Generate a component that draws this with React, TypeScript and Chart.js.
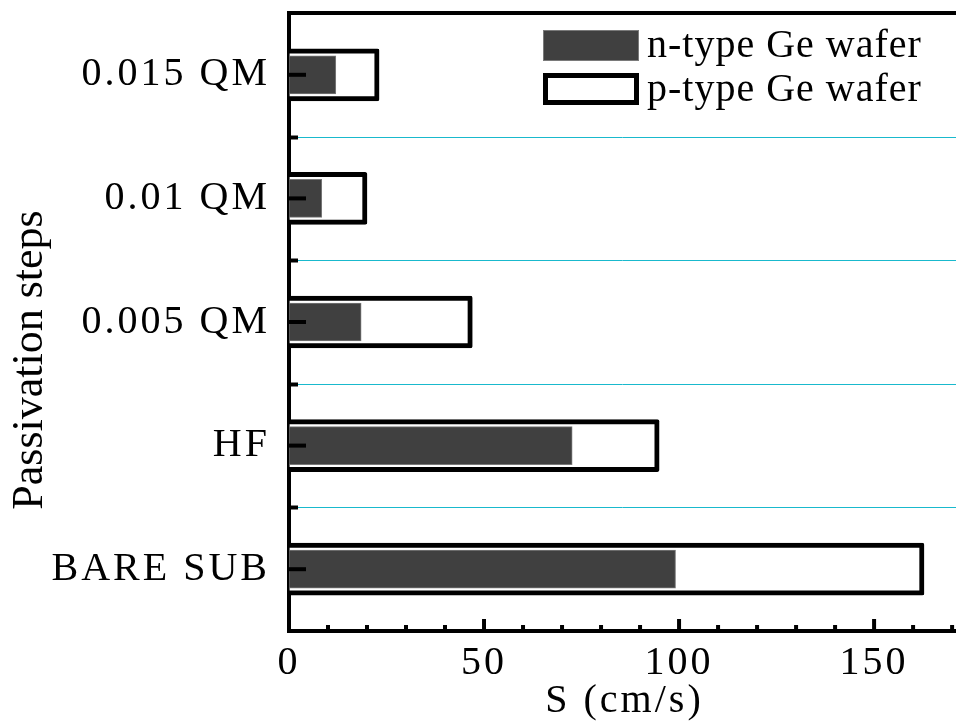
import React, { useEffect, useRef } from "react";
import { Chart, registerables } from "chart.js";

Chart.register(...registerables);

const categories = ["0.015 QM", "0.01 QM", "0.005 QM", "HF", "BARE SUB"];
const nTypeValues = [12.0, 8.4, 18.5, 72.6, 99.1];
const pTypeValues = [23.1, 20.0, 47.0, 94.9, 162.8];
const seriesLabels = ["n-type Ge wafer", "p-type Ge wafer"];
const xMajorTicks = [0, 50, 100, 150];
const xAxisTitle = "S (cm/s)";
const yAxisTitle = "Passivation steps";

const FONT = '"Liberation Serif", "Times New Roman", Times, serif';
const GRID_CYAN = "#19b9cd";

const spacingPlugin = {
  id: "letterSpacingPlugin",
  beforeUpdate(chart: any) {
    chart.ctx.letterSpacing = "3px";
  },
  beforeDraw(chart: any) {
    chart.ctx.letterSpacing = "3px";
  },
};

const gridPlugin = {
  id: "cyanGrid",
  beforeDatasetsDraw(chart: any) {
    const { ctx, chartArea: ca, scales } = chart;
    const y = scales.y;
    ctx.save();
    ctx.strokeStyle = GRID_CYAN;
    ctx.lineWidth = 1;
    for (let i = 0; i < categories.length - 1; i++) {
      const py = Math.round(y.getPixelForValue(i + 0.5)) + 0.5;
      ctx.beginPath();
      ctx.moveTo(ca.left, py);
      ctx.lineTo(ca.right, py);
      ctx.stroke();
    }
    ctx.restore();
  },
};

const overlayPlugin = {
  id: "overlayPlugin",
  afterDraw(chart: any) {
    const { ctx, chartArea: ca, scales } = chart;
    const x = scales.x;
    const y = scales.y;
    ctx.save();
    ctx.letterSpacing = "0px";
    ctx.strokeStyle = "#000";
    ctx.lineCap = "butt";
    const line = (x1: number, y1: number, x2: number, y2: number, w: number) => {
      ctx.lineWidth = w;
      ctx.beginPath();
      ctx.moveTo(x1, y1);
      ctx.lineTo(x2, y2);
      ctx.stroke();
    };
    // top frame
    line(ca.left - 2, ca.top, ca.right, ca.top, 4);
    // x ticks (inward)
    x.ticks.forEach((t: any) => {
      const px = x.getPixelForValue(t.value);
      const major = t.value % 50 === 0;
      line(px, ca.bottom, px, ca.bottom - (major ? 12 : 6), 4);
    });
    // y ticks (inward)
    for (let i = 0; i < categories.length; i++) {
      const py = y.getPixelForValue(i);
      line(ca.left, py, ca.left + 17, py, 4);
      if (i < categories.length - 1) {
        const pb = Math.round(y.getPixelForValue(i + 0.5)) + 0.5;
        line(ca.left, pb, ca.left + 9, pb, 4);
      }
    }
    // legend
    const ds = chart.data.datasets;
    ctx.font = `40px ${FONT}`;
    ctx.letterSpacing = "1px";
    ctx.textBaseline = "middle";
    ctx.textAlign = "left";
    ctx.fillStyle = ds[0].backgroundColor;
    ctx.fillRect(543, 30, 96, 31);
    ctx.strokeStyle = ds[0].borderColor;
    ctx.lineWidth = 1;
    ctx.strokeRect(543.5, 30.5, 95, 30);
    ctx.fillStyle = ds[1].backgroundColor;
    ctx.fillRect(543, 73, 96, 32);
    ctx.strokeStyle = ds[1].borderColor;
    ctx.lineWidth = 5;
    ctx.strokeRect(545.5, 75.5, 91, 27);
    ctx.fillStyle = "#000";
    ctx.fillText(ds[0].label, 647, 46);
    ctx.fillText(ds[1].label, 647, 90);
    // axis titles
    ctx.letterSpacing = "3px";
    ctx.textAlign = "center";
    ctx.font = `40px ${FONT}`;
    ctx.fillText(xAxisTitle, (ca.left + ca.right) / 2 + 2, 701);
    ctx.letterSpacing = "0px";
    ctx.font = `44px ${FONT}`;
    ctx.translate(30, 360);
    ctx.rotate(-Math.PI / 2);
    ctx.fillText(yAxisTitle, 0, 0);
    ctx.restore();
  },
};

export default function App() {
  const ref = useRef<HTMLCanvasElement>(null);
  useEffect(() => {
    if (!ref.current) return;
    const chart = new Chart(ref.current, {
      type: "bar",
      data: {
        labels: categories,
        datasets: [
          {
            label: seriesLabels[0],
            data: nTypeValues,
            backgroundColor: "#404040",
            borderColor: "#7a7a7a",
            borderWidth: 1,
            barThickness: 38,
            grouped: false,
          } as any,
          {
            label: seriesLabels[1],
            data: pTypeValues,
            backgroundColor: "#ffffff",
            borderColor: "#000000",
            borderWidth: 5,
            borderRadius: 2,
            borderSkipped: "start",
            barThickness: 52,
            grouped: false,
          } as any,
        ],
      },
      options: {
        indexAxis: "y",
        responsive: false,
        animation: false,
        devicePixelRatio: 1,
        layout: { padding: { top: 13, left: 0, right: 0, bottom: 0 } },
        plugins: {
          legend: { display: false },
          tooltip: { enabled: false },
        },
        scales: {
          x: {
            type: "linear",
            min: 0,
            max: 171,
            afterFit: (s: any) => {
              s.height = 92;
              s.paddingLeft = 0;
              s.paddingRight = 0;
            },
            grid: { color: "rgba(0,0,0,0)", drawTicks: false },
            border: { display: true, color: "#000", width: 4 },
            ticks: {
              stepSize: 10,
              includeBounds: false,
              autoSkip: false,
              maxRotation: 0,
              padding: 8,
              color: "#000",
              font: { family: FONT, size: 40 },
              callback: (v: any) => (xMajorTicks.includes(Number(v)) ? String(v) : ""),
            },
          },
          y: {
            type: "category",
            z: 1,
            afterFit: (s: any) => {
              s.width = 289;
              s.paddingTop = 0;
              s.paddingBottom = 0;
            },
            grid: {
              drawTicks: false,
              lineWidth: 1,
              color: "rgba(0,0,0,0)",
            },
            border: { display: true, color: "#000", width: 4 },
            ticks: {
              padding: 19,
              color: "#000",
              font: { family: FONT, size: 40 },
            },
          },
        },
      } as any,
      plugins: [spacingPlugin, gridPlugin, overlayPlugin],
    });
    return () => chart.destroy();
  }, []);
  return (
    <div style={{ position: "fixed", left: 0, top: 0, width: 956, height: 723, background: "#fff" }}>
      <canvas ref={ref} width={956} height={723} style={{ display: "block" }} />
    </div>
  );
}
